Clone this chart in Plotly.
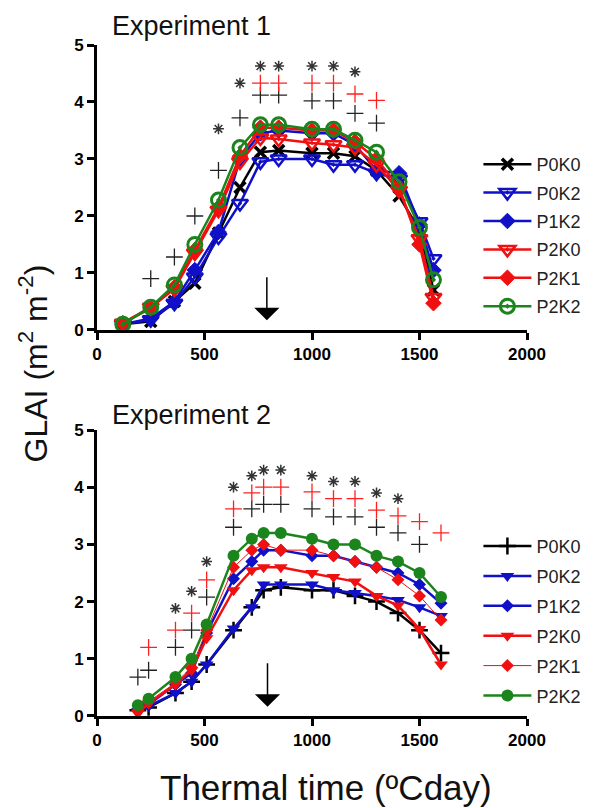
import plotly.graph_objects as go

# ---------------- DATA ----------------
series_names = ["P0K0", "P0K2", "P1K2", "P2K0", "P2K1", "P2K2"]

# Experiment 1
exp1_tt = [120, 250, 360, 455, 565, 665, 760, 845, 1000, 1100, 1200, 1300, 1405, 1500, 1565]
exp1_P0K0 = [0.10, 0.15, 0.50, 0.82, 1.70, 2.50, 3.12, 3.15, 3.10, 3.10, 3.05, 2.80, 2.35, 1.75, 0.70]
exp1_P0K2 = [0.10, 0.18, 0.47, 0.93, 1.63, 2.22, 2.95, 3.00, 3.00, 2.90, 2.90, 2.75, 2.65, 1.90, 1.25]
exp1_P1K2 = [0.10, 0.20, 0.50, 1.05, 1.72, 3.00, 3.45, 3.50, 3.45, 3.45, 3.25, 2.80, 2.75, 1.85, 1.05]
exp1_P2K0 = [0.12, 0.40, 0.72, 1.35, 2.10, 2.95, 3.37, 3.35, 3.28, 3.25, 3.20, 2.90, 2.45, 1.60, 0.57]
exp1_P2K1 = [0.12, 0.38, 0.75, 1.40, 2.15, 3.05, 3.55, 3.55, 3.50, 3.50, 3.30, 3.00, 2.50, 1.50, 0.47]
exp1_P2K2 = [0.10, 0.40, 0.79, 1.50, 2.28, 3.20, 3.60, 3.60, 3.52, 3.52, 3.33, 3.12, 2.60, 1.80, 0.88]

exp1_plus_black_x = [250, 360, 455, 565, 665, 760, 845, 1000, 1100, 1200, 1300]
exp1_plus_black_y = [0.90, 1.28, 2.00, 2.80, 3.72, 4.12, 4.12, 4.02, 4.02, 3.80, 3.63]
exp1_plus_red_x = [760, 845, 1000, 1100, 1200, 1300]
exp1_plus_red_y = [4.33, 4.33, 4.33, 4.33, 4.14, 4.03]
exp1_star_x = [565, 665, 760, 845, 1000, 1100, 1200]
exp1_star_y = [3.53, 4.33, 4.63, 4.63, 4.63, 4.63, 4.53]

# Experiment 2
exp2_tt = [190, 240, 365, 440, 510, 635, 720, 775, 855, 1000, 1100, 1200, 1300, 1400, 1500, 1600]
exp2_P0K0 = [0.10, 0.15, 0.40, 0.60, 0.90, 1.50, 1.90, 2.20, 2.25, 2.20, 2.20, 2.10, 2.00, 1.80, 1.50, 1.10]
exp2_P0K2 = [0.08, 0.17, 0.40, 0.60, 0.90, 1.53, 1.90, 2.30, 2.30, 2.30, 2.20, 2.15, 2.10, 2.03, 1.90, 1.75]
exp2_P1K2 = [0.12, 0.20, 0.55, 0.75, 1.45, 2.40, 2.70, 2.90, 2.90, 2.80, 2.80, 2.70, 2.60, 2.50, 2.30, 1.97]
exp2_P2K0 = [0.05, 0.22, 0.55, 0.80, 1.36, 2.20, 2.55, 2.60, 2.60, 2.50, 2.43, 2.35, 2.10, 1.93, 1.52, 0.90]
exp2_P2K1 = [0.10, 0.25, 0.58, 0.85, 1.50, 2.60, 2.90, 3.00, 2.90, 2.90, 2.80, 2.70, 2.60, 2.38, 2.10, 1.68]
exp2_P2K2 = [0.19, 0.30, 0.68, 1.00, 1.60, 2.80, 3.10, 3.20, 3.20, 3.10, 3.00, 3.00, 2.80, 2.70, 2.50, 2.08]

exp2_plus_black_x = [190, 240, 365, 440, 510, 635, 720, 775, 855, 1000, 1100, 1200, 1300, 1400, 1500]
exp2_plus_black_y = [0.68, 0.80, 1.20, 1.50, 2.08, 3.30, 3.62, 3.70, 3.70, 3.62, 3.48, 3.48, 3.30, 3.20, 3.00]
exp2_plus_red_x = [240, 365, 440, 510, 635, 720, 775, 855, 1000, 1100, 1200, 1300, 1400, 1500, 1600]
exp2_plus_red_y = [1.20, 1.50, 1.80, 2.38, 3.62, 3.90, 4.00, 4.00, 3.92, 3.80, 3.80, 3.60, 3.50, 3.40, 3.20]
exp2_star_x = [365, 440, 510, 635, 720, 775, 855, 1000, 1100, 1200, 1300, 1400]
exp2_star_y = [1.88, 2.18, 2.70, 4.00, 4.20, 4.30, 4.30, 4.20, 4.10, 4.10, 3.90, 3.80]

# arrows (thermal time, start value, end value)
arrow1 = (790, 0.95, 0.17)
arrow2 = (793, 0.95, 0.16)

x_ticks = [0, 500, 1000, 1500, 2000]
y_ticks = [0, 1, 2, 3, 4, 5]

# ---------------- STYLE ----------------
BLACK = "#000000"
BLUE = "#1010C8"
RED = "#F01010"
GREEN = "#1C841C"
FONT = "Liberation Sans, Arial, sans-serif"

exp1_values = [exp1_P0K0, exp1_P0K2, exp1_P1K2, exp1_P2K0, exp1_P2K1, exp1_P2K2]
exp2_values = [exp2_P0K0, exp2_P0K2, exp2_P1K2, exp2_P2K0, exp2_P2K1, exp2_P2K2]

exp1_style = [
    dict(color=BLACK, symbol="x-thin-open", size=11, mlw=3.5, lw=2.5),
    dict(color=BLUE, symbol="triangle-down-open-dot", size=14, mlw=2.5, lw=2.5),
    dict(color=BLUE, symbol="diamond-dot", size=12, mlw=1, lw=2.5),
    dict(color=RED, symbol="triangle-down-open-dot", size=14, mlw=2.5, lw=2.5),
    dict(color=RED, symbol="diamond-dot", size=12, mlw=1, lw=2.5),
    dict(color=GREEN, symbol="circle-open-dot", size=14, mlw=3, lw=2.5),
]
exp2_style = [
    dict(color=BLACK, symbol="cross-thin-open", size=12, mlw=2.5, lw=2.5),
    dict(color=BLUE, symbol="triangle-down", size=12, mlw=0, lw=2.5),
    dict(color=BLUE, symbol="diamond", size=10, mlw=0, lw=2.5),
    dict(color=RED, symbol="triangle-down", size=12, mlw=0, lw=2.5),
    dict(color=RED, symbol="diamond", size=10, mlw=0, lw=1),
    dict(color=GREEN, symbol="circle", size=12, mlw=0, lw=2.5),
]

fig = go.Figure()

def add_series(tt, values, styles, xa, ya, legend, prefix):
    for name, vals, st in zip(series_names, values, styles):
        fig.add_trace(go.Scatter(
            x=tt, y=vals, name=name, mode="lines+markers",
            xaxis=xa, yaxis=ya, legend=legend, legendgroup=prefix + name,
            line=dict(color=st["color"], width=st["lw"]),
            marker=dict(symbol=st["symbol"], size=st["size"], color=st["color"],
                        line=dict(color=st["color"], width=st["mlw"])),
            cliponaxis=False,
        ))

def add_sig(xs, ys, symbol, color, size, width, xa, ya):
    fig.add_trace(go.Scatter(
        x=xs, y=ys, mode="markers", showlegend=False, xaxis=xa, yaxis=ya,
        marker=dict(symbol=symbol, size=size, color=color, line=dict(color=color, width=width)),
        cliponaxis=False, hoverinfo="skip",
    ))

add_series(exp1_tt, exp1_values, exp1_style, "x", "y", "legend", "e1")
add_sig(exp1_plus_black_x, exp1_plus_black_y, "cross-thin-open", "#222222", 12, 1.3, "x", "y")
add_sig(exp1_plus_red_x, exp1_plus_red_y, "cross-thin-open", "#FF2020", 12, 1.3, "x", "y")
add_sig(exp1_star_x, exp1_star_y, "asterisk-open", "#333333", 9, 1.5, "x", "y")

add_series(exp2_tt, exp2_values, exp2_style, "x2", "y2", "legend2", "e2")
add_sig(exp2_plus_black_x, exp2_plus_black_y, "cross-thin-open", "#222222", 12, 1.3, "x2", "y2")
add_sig(exp2_plus_red_x, exp2_plus_red_y, "cross-thin-open", "#FF2020", 12, 1.3, "x2", "y2")
add_sig(exp2_star_x, exp2_star_y, "asterisk-open", "#333333", 9, 1.5, "x2", "y2")

axis_common = dict(
    showline=True, linewidth=3, linecolor="black", mirror=False,
    ticks="outside", ticklen=7, tickwidth=3, tickcolor="black",
    showgrid=False, zeroline=False,
    tickfont=dict(family=FONT, size=17, color="black", weight="bold"),
)

# page body has an 8px margin, so the figure is drawn 8px smaller
fig.update_layout(
    width=590, height=800,
    margin=dict(l=89, r=67, t=37, b=92),
    paper_bgcolor="white", plot_bgcolor="white",
    font=dict(family=FONT, color="black"),
    xaxis=dict(domain=[0, 1], anchor="y", range=[0, 2000], tickvals=x_ticks, **axis_common),
    yaxis=dict(domain=[0.5753, 1.0], anchor="x", range=[0, 5], tickvals=y_ticks, **axis_common),
    xaxis2=dict(domain=[0, 1], anchor="y2", range=[0, 2000], tickvals=x_ticks, **axis_common),
    yaxis2=dict(domain=[0, 0.4262], anchor="x2", range=[0, 5], tickvals=y_ticks, **axis_common),
    legend=dict(x=0.887, y=0.8495, xanchor="left", yanchor="top", bgcolor="rgba(0,0,0,0)",
                font=dict(family=FONT, size=18, color="#222"), traceorder="grouped",
                tracegroupgap=2, itemwidth=48),
    legend2=dict(x=0.887, y=0.2805, xanchor="left", yanchor="top", bgcolor="rgba(0,0,0,0)",
                 font=dict(family=FONT, size=18, color="#222"), traceorder="grouped",
                 tracegroupgap=3.5, itemwidth=48),
    showlegend=True,
)

annotations = [
    dict(text="Experiment 1", x=0.03, y=(716 - 26) / 671, xref="paper", yref="paper", xanchor="left",
         yanchor="middle", showarrow=False, font=dict(family=FONT, size=27, color="#111")),
    dict(text="Experiment 2", x=0.03, y=(716 - 415) / 671, xref="paper", yref="paper", xanchor="left",
         yanchor="middle", showarrow=False, font=dict(family=FONT, size=27, color="#111")),
    dict(text="GLAI (m<sup>2</sup> m<sup>-2</sup>)", x=-0.148, y=0.526, xref="paper", yref="paper",
         textangle=-90, xanchor="center", yanchor="middle", showarrow=False,
         font=dict(family=FONT, size=32, color="#111")),
    dict(text="Thermal time (ºCday)", x=0.532, y=-0.107, xref="paper", yref="paper",
         xanchor="center", yanchor="middle", showarrow=False,
         font=dict(family=FONT, size=35, color="#111")),
]
for (ax_x, a0, a1), xr, yr in [(arrow1, "x", "y"), (arrow2, "x2", "y2")]:
    annotations.append(dict(x=ax_x, y=a1, ax=ax_x, ay=a0, xref=xr, yref=yr, axref=xr, ayref=yr,
                            showarrow=True, arrowhead=1, arrowsize=2.8, arrowwidth=1.5,
                            arrowcolor="black", text=""))
fig.update_layout(annotations=annotations)

fig.write_html("out.html")
